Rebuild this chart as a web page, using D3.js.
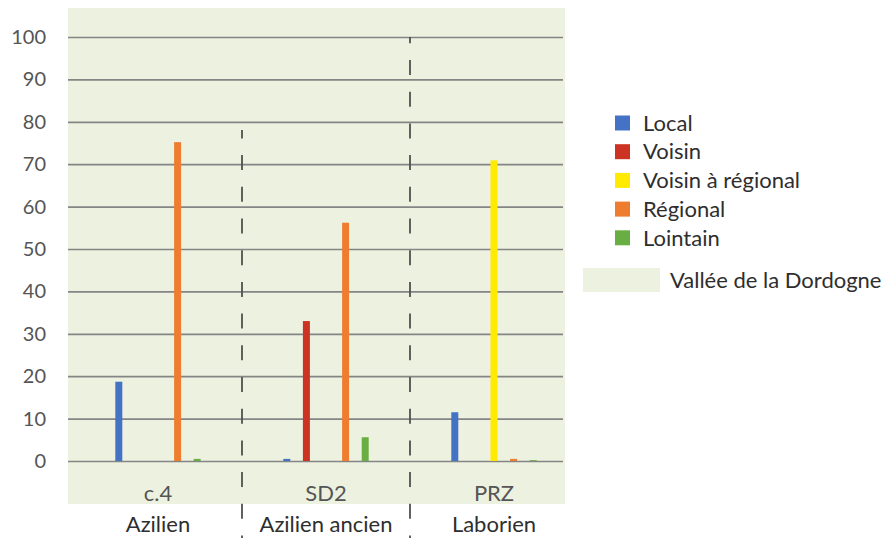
<!DOCTYPE html>
<html>
<head>
<meta charset="utf-8">
<script src="https://cdn.jsdelivr.net/npm/d3@7"></script>
<style>
  html, body { margin: 0; padding: 0; background: #ffffff; }
  svg { display: block; }
  text { font-family: Lato, "Open Sans", sans-serif; }
</style>
</head>
<body>
<svg id="chart" width="884" height="538"></svg>
<script>
// Assemblages and their cultural attribution
const categories = ["c.4", "SD2", "PRZ"];
const periods = ["Azilien", "Azilien ancien", "Laborien"];

// Share (%) of raw material by provenance
const seriesNames = ["Local", "Voisin", "Voisin à régional", "Régional", "Lointain"];
const local = [18.7, 0.5, 11.5];
const voisin = [0, 33.0, 0];
const voisinRegional = [0, 0, 70.9];
const regional = [75.2, 56.2, 0.5];
const lointain = [0.5, 5.6, 0.2];
const seriesColors = ["#4472C4", "#CC3322", "#FFEA00", "#EF7D2F", "#68AE42"];

const yTicks = [0, 10, 20, 30, 40, 50, 60, 70, 80, 90, 100];
const areaLabel = "Vallée de la Dordogne";

const seriesValues = [local, voisin, voisinRegional, regional, lointain];
const rows = [];
seriesNames.forEach((s, si) => {
  categories.forEach((c, ci) => {
    rows.push({ category: c, series: s, value: seriesValues[si][ci], color: seriesColors[si] });
  });
});

const svg = d3.select("#chart");
const plot = { left: 68, right: 563, top: 37, bottom: 461 };
const bgFill = "#EDF2E0";
const labelSize = "22px";

// plot background (Dordogne valley shading)
svg.append("rect")
  .attr("x", 68).attr("y", 8)
  .attr("width", 497).attr("height", 496)
  .attr("fill", bgFill);

const y = d3.scaleLinear().domain([0, 100]).range([plot.bottom, plot.top]);

const x0 = d3.scaleBand().domain(categories).range([74, 578]).paddingInner(0).paddingOuter(0);
const step = 19.6, barW = 7;
const pIn = 1 - barW / step;
const pOut = (x0.bandwidth() / step - seriesNames.length + pIn) / 2;
const x1 = d3.scaleBand().domain(seriesNames).range([0, x0.bandwidth()])
  .paddingInner(pIn).paddingOuter(pOut);

// y axis with gridlines
const yAxis = svg.append("g")
  .attr("transform", `translate(${plot.left},0)`)
  .call(d3.axisLeft(y).tickValues(yTicks).tickSize(-(plot.right - plot.left)).tickPadding(22));
yAxis.select(".domain").remove();
yAxis.selectAll(".tick line").attr("stroke", "#858585").attr("stroke-width", 1.7);
yAxis.selectAll(".tick text")
  .attr("fill", "#555555").style("font-size", "20px");

// bars
svg.append("g").selectAll("rect")
  .data(rows)
  .join("rect")
  .attr("x", d => x0(d.category) + x1(d.series))
  .attr("width", x1.bandwidth())
  .attr("y", d => y(d.value))
  .attr("height", d => y(0) - y(d.value))
  .attr("fill", d => d.color);

// category axis
const xAxis = svg.append("g")
  .attr("transform", `translate(0,${plot.bottom})`)
  .call(d3.axisBottom(x0).tickSize(0).tickPadding(24));
xAxis.select(".domain").remove();
xAxis.selectAll(".tick text").attr("fill", "#555555").style("font-size", labelSize);

// period labels beneath
svg.append("g").selectAll("text")
  .data(categories)
  .join("text")
  .attr("x", d => x0(d) + x0.bandwidth() / 2)
  .attr("y", 532)
  .attr("text-anchor", "middle")
  .attr("fill", "#2E2E2E")
  .style("font-size", labelSize)
  .text((d, i) => periods[i]);

// dashed separators between assemblages
const dashLen = 15, gapLen = 16.7, phase = 28.3;
const period = dashLen + gapLen;
const separators = [
  { cat: "SD2", top: 130 },
  { cat: "PRZ", top: 37 }
];
svg.append("g").selectAll("line")
  .data(separators)
  .join("line")
  .attr("x1", d => x0(d.cat)).attr("x2", d => x0(d.cat))
  .attr("y1", d => d.top).attr("y2", 538)
  .attr("stroke", "#505050")
  .attr("stroke-width", 1.8)
  .attr("stroke-dasharray", `${dashLen} ${gapLen}`)
  .attr("stroke-dashoffset", d => ((d.top - phase) % period + period) % period);

// legend
const legend = svg.append("g");
const lg = legend.selectAll("g")
  .data(seriesNames)
  .join("g")
  .attr("transform", (d, i) => `translate(615,${123 + i * 28.7})`);
lg.append("rect")
  .attr("x", 0).attr("y", -7.5).attr("width", 15).attr("height", 15)
  .attr("fill", (d, i) => seriesColors[i]);
lg.append("text")
  .attr("x", 28).attr("y", 0).attr("dy", "0.35em")
  .attr("fill", "#2E2E2E")
  .style("font-size", labelSize)
  .text(d => d);

const area = legend.append("g").attr("transform", "translate(583,280)");
area.append("rect")
  .attr("x", 0).attr("y", -12).attr("width", 77).attr("height", 24)
  .attr("fill", bgFill);
area.append("text")
  .attr("x", 87).attr("y", 0).attr("dy", "0.35em")
  .attr("fill", "#2E2E2E")
  .style("font-size", labelSize)
  .text(areaLabel);
</script>
</body>
</html>
